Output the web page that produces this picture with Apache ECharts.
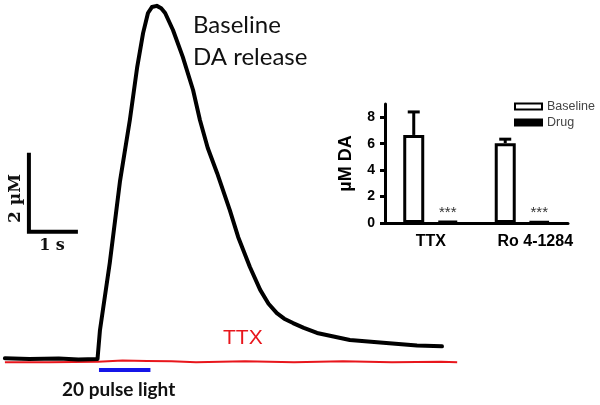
<!DOCTYPE html>
<html><head><meta charset="utf-8">
<script src="https://cdn.jsdelivr.net/npm/echarts@6/dist/echarts.min.js"></script>
<style>html,body{margin:0;padding:0;background:#fff}#c{width:600px;height:405px}</style>
</head><body><div id="c"></div>
<script>
// ---- main trace: time (s) vs dopamine (µM) ----
const traceTime = [0.10, 0.60, 1.20, 1.60, 1.99, 2.04, 2.24, 2.45, 2.65, 2.80, 2.92, 3.02, 3.10, 3.20, 3.29, 3.37, 3.53, 3.73, 3.94, 4.08, 4.24, 4.43, 4.69, 4.86, 5.10, 5.31, 5.48, 5.65, 5.80, 5.98, 6.20, 6.47, 7.14, 7.82, 8.51, 9.02];
const traceDA   = [0.02, 0.00, 0.01, -0.01, 0.00, 0.73, 2.43, 4.51, 6.05, 7.39, 8.25, 8.76, 8.91, 8.94, 8.88, 8.76, 8.33, 7.65, 6.81, 6.05, 5.34, 4.71, 3.77, 3.09, 2.33, 1.75, 1.40, 1.16, 1.02, 0.91, 0.79, 0.66, 0.48, 0.41, 0.34, 0.32];
const ttxTime = [0.10, 1.00, 2.00, 2.50, 3.00, 3.50, 4.00, 5.00, 6.00, 7.00, 8.00, 9.00, 9.33];
const ttxDA   = [-0.08, -0.08, -0.07, -0.04, -0.05, -0.06, -0.08, -0.06, -0.08, -0.06, -0.08, -0.07, -0.08];
const stimStart = 2.02, stimDuration = 1.05, stimLevel = -0.28;
const scaleBarOrigin = [0.59, 3.22];
const scaleBarTime = 1, scaleBarConc = 2;

// ---- inset bar chart ----
const insetCategories = ['TTX', 'Ro 4-1284'];
const baselineMean = [6.66, 6.04];
const baselineSEM  = [1.74, 0.30];
const drugMean     = [0.15, 0.10];
const insetTicks   = [0, 2, 4, 6, 8];
const seriesNames  = ['Baseline', 'Drug'];

const barW = 21, barGapRatio = 0.62;
const barOffset = -barW * (1 + barGapRatio) / 2;

const chart = echarts.init(document.getElementById('c'), null, {renderer: 'canvas'});
const zip = (a, b) => a.map((v, i) => [v, b[i]]);

chart.setOption({
  animation: false,
  backgroundColor: '#fff',
  grid: [
    {left: 0, top: 3.5, width: 588, height: 395},
    {left: 385, top: 104, width: 183, height: 119}
  ],
  xAxis: [
    {type: 'value', gridIndex: 0, min: 0, max: 12, show: false},
    {type: 'category', gridIndex: 1, data: insetCategories,
     axisLine: {lineStyle: {color: '#000', width: 3}},
     axisTick: {alignWithLabel: true, length: 5, lineStyle: {color: '#000', width: 3}},
     axisLabel: {color: '#000', fontWeight: 'bold', fontSize: 16, fontFamily: 'Liberation Sans', margin: 11, interval: 0, hideOverlap: false,
       formatter: v => v === insetCategories[1] ? '{r|' + v + '}' : v,
       rich: {r: {color: '#000', fontWeight: 'bold', fontSize: 16, fontFamily: 'Liberation Sans', padding: [0, 0, 0, 26]}}}}
  ],
  yAxis: [
    {type: 'value', gridIndex: 0, min: -1, max: 9, show: false},
    {type: 'value', gridIndex: 1, min: 0, max: 9, interval: 2,
     name: 'µM DA', nameLocation: 'middle', nameRotate: 90, nameGap: 30,
     nameTextStyle: {color: '#000', fontWeight: 'bold', fontSize: 18, fontFamily: 'Liberation Sans'},
     axisLine: {show: true, lineStyle: {color: '#000', width: 3}},
     axisTick: {show: true, length: 5, customValues: insetTicks, lineStyle: {color: '#000', width: 3}},
     axisLabel: {color: '#000', fontWeight: 'bold', fontSize: 14, fontFamily: 'Liberation Sans', margin: 10,
       customValues: insetTicks, formatter: v => (v % 2 === 0 ? String(v) : '')},
     splitLine: {show: false}}
  ],
  legend: {
    data: seriesNames, orient: 'vertical', left: 514, top: 100, padding: 0,
    itemWidth: 27, itemHeight: 6, itemGap: 3, icon: 'rect',
    textStyle: {fontSize: 12.5, lineHeight: 12, color: '#444', fontFamily: 'Liberation Sans', padding: [0, 0, 0, 0]}
  },
  series: [
    {type: 'line', xAxisIndex: 0, yAxisIndex: 0, data: zip(ttxTime, ttxDA), symbol: 'none',
     lineStyle: {color: '#e8161c', width: 2}, z: 2},
    {type: 'line', xAxisIndex: 0, yAxisIndex: 0, data: zip(traceTime, traceDA), symbol: 'none', smooth: false,
     lineStyle: {color: '#000', width: 4, join: 'round', cap: 'round'}, z: 3},
    {type: 'line', xAxisIndex: 0, yAxisIndex: 0,
     data: [[stimStart, stimLevel], [stimStart + stimDuration, stimLevel]], symbol: 'none',
     lineStyle: {color: '#1515e8', width: 4}, z: 3},
    {type: 'line', xAxisIndex: 0, yAxisIndex: 0,
     data: [[scaleBarOrigin[0], scaleBarOrigin[1] + scaleBarConc], scaleBarOrigin, [scaleBarOrigin[0] + scaleBarTime, scaleBarOrigin[1]]],
     symbol: 'none', lineStyle: {color: '#000', width: 4, join: 'miter'}, z: 3},
    {name: seriesNames[0], type: 'bar', xAxisIndex: 1, yAxisIndex: 1, data: baselineMean,
     barWidth: barW, barGap: (barGapRatio * 100) + '%',
     itemStyle: {color: '#fff', borderColor: '#000', borderWidth: 3}},
    {name: seriesNames[1], type: 'bar', xAxisIndex: 1, yAxisIndex: 1, data: drugMean,
     barWidth: barW,
     itemStyle: {color: '#000', borderColor: '#000', borderWidth: 3},
     label: {show: true, position: 'top', formatter: '***', distance: 0, color: '#333', fontSize: 15, fontFamily: 'Liberation Sans'}},
    {type: 'custom', xAxisIndex: 1, yAxisIndex: 1,
     data: baselineMean.map((m, i) => [i, m, m + baselineSEM[i]]),
     renderItem: (params, api) => {
       const p0 = api.coord([api.value(0), api.value(1)]);
       const p1 = api.coord([api.value(0), api.value(2)]);
       const x = p0[0] + barOffset;
       const st = {stroke: '#000', lineWidth: 3};
       return {type: 'group', children: [
         {type: 'line', shape: {x1: x, y1: p0[1], x2: x, y2: p1[1]}, style: st},
         {type: 'line', shape: {x1: x - 6, y1: p1[1], x2: x + 6, y2: p1[1]}, style: st}
       ]};
     }, z: 1}
  ],
  graphic: [
    {type: 'text', left: 193, top: 9, style: {text: 'Baseline\nDA release', font: '24px Lato', lineHeight: 32, fill: '#111'}},
    {type: 'text', left: 223, top: 328, style: {text: 'TTX', font: '21px "Liberation Sans"', fill: '#e8161c'}},
    {type: 'text', left: 62, top: 380, style: {text: '20 pulse light', font: 'bold 19px Lato', fill: '#111'}},
    {type: 'text', x: 15.5, y: 198.5, rotation: Math.PI / 2, style: {text: '2 µM', font: 'bold 17px "DejaVu Serif"', fill: '#111', align: 'center', verticalAlign: 'middle'}},
    {type: 'text', x: 52, y: 246, style: {text: '1 s', font: 'bold 16px "DejaVu Serif"', fill: '#111', align: 'center', verticalAlign: 'middle'}}
  ]
});
</script></body></html>
